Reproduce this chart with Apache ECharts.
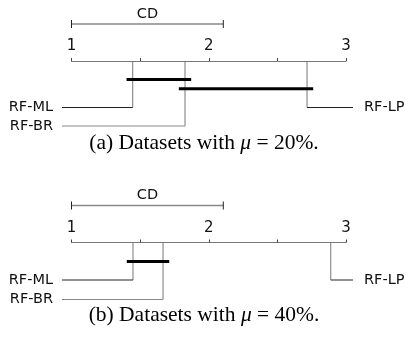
<!DOCTYPE html>
<html><head><meta charset="utf-8">
<script src="https://cdn.jsdelivr.net/npm/echarts@6/dist/echarts.min.js"></script>
<style>html,body{margin:0;padding:0;background:#fff}#c{width:406px;height:337px}</style>
</head><body><div id="c"></div>
<script>
// ---- data ----
const methods = ['RF-ML', 'RF-BR', 'RF-LP'];
const ranksA = [1.446, 1.827, 2.716];
const ranksB = [1.448, 1.667, 2.889];
const cdA = 1.106;
const cdB = 1.106;
const cliquesA = [[0, 1], [1, 2]];
const cliquesB = [[0, 1]];
const tickLabels = ['1', '2', '3'];
const panelTags = ['(a)', '(b)'];
const muValues = ['20%', '40%'];

// ---- layout ----
const gridLeft = 71.5, gridRight = 60;
const W = 406;
const panels = [
  { ranks: ranksA, cd: cdA, cliques: cliquesA, axisY: 61, methodRows: [46.5, 65, 46.5], cliqueRows: [18.5, 27.7], bottom: 65, captionY: 143 },
  { ranks: ranksB, cd: cdB, cliques: cliquesB, axisY: 242.5, methodRows: [37.5, 57, 37.5], cliqueRows: [19], bottom: 57, captionY: 315 }
];
const sides = [0, 0, 1]; // 0 = label on left, 1 = label on right
const cliqueExt = 0.045;
const labelFont = 'DejaVu Sans';

const grids = [], xAxes = [], yAxes = [], series = [], graphics = [];
panels.forEach((p, k) => {
  grids.push({ left: gridLeft, right: gridRight, top: p.axisY, height: p.bottom });
  xAxes.push({
    gridIndex: k, type: 'value', min: 1, max: 3, interval: 0.5, position: 'top',
    axisLine: { onZero: false, lineStyle: { color: '#777', width: 1 } },
    axisTick: { length: 3, lineStyle: { color: '#444', width: 1 } },
    axisLabel: { formatter: v => (Number.isInteger(v) ? tickLabels[v - 1] : ''), margin: 7, fontSize: 15, color: '#111', fontFamily: labelFont },
    splitLine: { show: false }
  });
  yAxes.push({ gridIndex: k, type: 'value', min: 0, max: p.bottom, inverse: true, show: false });

  // method lines + labels
  series.push({
    type: 'custom', xAxisIndex: k, yAxisIndex: k, clip: false, silent: true,
    data: p.ranks.map((r, i) => [r, p.methodRows[i], sides[i]]),
    renderItem: (params, api) => {
      const i = params.dataIndex;
      const r = api.value(0), row = api.value(1), side = api.value(2);
      const a = api.coord([r, 0]), b = api.coord([r, row]);
      const col = i === 1 ? '#888' : '#222';
      const endX = side === 0 ? gridLeft - 9.5 : W - gridRight + 7;
      return {
        type: 'group', children: [
          { type: 'line', shape: { x1: a[0], y1: a[1], x2: b[0], y2: b[1] }, style: { stroke: '#777', lineWidth: 1 } },
          { type: 'line', shape: { x1: b[0], y1: b[1], x2: endX, y2: b[1] }, style: { stroke: col, lineWidth: 1 } },
          { type: 'text', style: { text: methods[i], x: side === 0 ? endX - 9 : endX + 11, y: b[1], align: side === 0 ? 'right' : 'left', verticalAlign: 'middle', fontSize: 14.5, fontFamily: labelFont, fill: '#111' } }
        ]
      };
    }
  });

  // clique bars
  series.push({
    type: 'custom', xAxisIndex: k, yAxisIndex: k, clip: false, silent: true,
    data: p.cliques.map((c, j) => {
      const rs = c.map(ix => p.ranks[ix]);
      return [Math.min(...rs) - cliqueExt, Math.max(...rs) + cliqueExt, p.cliqueRows[j]];
    }),
    renderItem: (params, api) => {
      const a = api.coord([api.value(0), api.value(2)]), b = api.coord([api.value(1), api.value(2)]);
      return { type: 'line', shape: { x1: a[0], y1: a[1], x2: b[0], y2: b[1] }, style: { stroke: '#000', lineWidth: 3 } };
    }
  });

  // CD bar
  series.push({
    type: 'custom', xAxisIndex: k, yAxisIndex: k, clip: false, silent: true,
    data: [[1, 1 + p.cd]],
    renderItem: (params, api) => {
      const a = api.coord([api.value(0), -37]), b = api.coord([api.value(1), -37]);
      const mid = (a[0] + b[0]) / 2;
      return {
        type: 'group', children: [
          { type: 'line', shape: { x1: a[0], y1: a[1], x2: b[0], y2: b[1] }, style: { stroke: '#888', lineWidth: 1.5 } },
          { type: 'line', shape: { x1: a[0], y1: a[1] - 4, x2: a[0], y2: a[1] + 4 }, style: { stroke: '#222', lineWidth: 1 } },
          { type: 'line', shape: { x1: b[0], y1: b[1] - 4, x2: b[0], y2: b[1] + 4 }, style: { stroke: '#222', lineWidth: 1 } },
          { type: 'text', style: { text: 'CD', x: mid, y: a[1] - 10, align: 'center', verticalAlign: 'middle', fontSize: 14.5, fontFamily: labelFont, fill: '#111' } }
        ]
      };
    }
  });

  graphics.push({
    type: 'text', x: 204, y: p.captionY,
    style: {
      text: panelTags[k] + ' Datasets with {i|μ} = ' + muValues[k] + '.',
      align: 'center', verticalAlign: 'middle',
      font: '21.5px "Liberation Serif"', fill: '#000',
      rich: { i: { fontStyle: 'italic', fontFamily: 'Liberation Serif', fontSize: 21.5 } }
    }
  });
});

const chart = echarts.init(document.getElementById('c'), null, { renderer: 'canvas' });
chart.setOption({
  animation: false,
  grid: grids, xAxis: xAxes, yAxis: yAxes, series: series, graphic: graphics
});
</script></body></html>
